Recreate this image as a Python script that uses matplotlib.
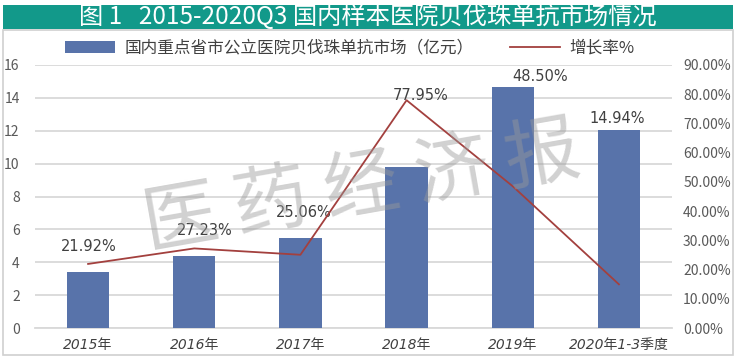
import matplotlib
matplotlib.use("Agg")
import matplotlib.pyplot as plt
from matplotlib.patches import Rectangle
from matplotlib.ticker import FuncFormatter, MultipleLocator

plt.rcParams['font.family'] = ['Noto Sans CJK SC', 'DejaVu Sans']

# ---- data ----
categories = ["2015年", "2016年", "2017年", "2018年", "2019年", "2020年1-3季度"]
market = [3.42, 4.40, 5.48, 9.80, 14.68, 12.03]          # 亿元
growth = [21.92, 27.23, 25.06, 77.95, 48.50, 14.94]      # %
growth_labels = ["21.92%", "27.23%", "25.06%", "77.95%", "48.50%", "14.94%"]
title = "图 1   2015-2020Q3 国内样本医院贝伐珠单抗市场情况"
bar_name = "国内重点省市公立医院贝伐珠单抗市场（亿元）"
line_name = "增长率%"

# label placement offsets (pixels, relative to bar top)
label_dx = [1, 11, 3, 14, 27, -2]
label_dy = [25, 25, 25, 71, 10, 12]

W, H = 736, 359
fig = plt.figure(figsize=(W / 100, H / 100), dpi=100)
fig.patch.set_facecolor("white")

# outer frame
fig.patches.append(Rectangle((3 / W, 1 - 355 / H), 730 / W, 325 / H, transform=fig.transFigure,
                             facecolor="white", edgecolor="#d0d0d0", lw=1.2, zorder=-10))
# title bar
fig.patches.append(Rectangle((3 / W, 1 - 29 / H), 730 / W, 24 / H, transform=fig.transFigure,
                             facecolor="#12998a", edgecolor="none", zorder=-5))
fig.text(368 / W, 1 - 17 / H, title, color="white", fontsize=17.5, ha="center", va="center")

ax = fig.add_axes([35 / W, 1 - 328 / H, 637 / W, 263 / H])
ax2 = ax.twinx()
ax.patch.set_visible(False)
ax2.patch.set_visible(False)

x = list(range(len(categories)))
bar_color = "#5873aa"
line_color = "#a3403e"
bars = ax.bar(x, market, width=0.4, color=bar_color, zorder=3, label=bar_name)
ax.set_xlim(-0.5, len(categories) - 0.5)
ax.set_ylim(0, 16)
ax.yaxis.set_major_locator(MultipleLocator(2))
ax.grid(axis="y", color="#d9d9d9", lw=1.3, zorder=0)
ax.set_axisbelow(True)

ln, = ax2.plot(x, growth, color=line_color, lw=1.3, zorder=4, label=line_name)
ax2.set_ylim(0, 90)
ax2.yaxis.set_major_locator(MultipleLocator(10))
ax2.yaxis.set_major_formatter(FuncFormatter(lambda v, p: f"{v:.2f}%"))

for a in (ax, ax2):
    for s in a.spines.values():
        s.set_visible(False)
    a.tick_params(length=0, labelsize=10, colors="#595959")
ax.spines["bottom"].set_visible(True)
ax.spines["bottom"].set_color("#d9d9d9")
ax.spines["bottom"].set_linewidth(1.3)
ax.tick_params(axis="y", pad=11)
ax2.tick_params(axis="y", pad=8)

ax.set_xticks(x)
ax.set_xticklabels(categories, fontstyle="italic", fontsize=10, color="#404040",
                   family=["DejaVu Sans", "Noto Sans CJK SC"])
ax.tick_params(axis="x", pad=7)

# percentage labels
for i, (v, t) in enumerate(zip(market, growth_labels)):
    ax.annotate(t, xy=(i, v), xytext=(label_dx[i], label_dy[i]), textcoords="offset pixels",
                ha="center", va="center", fontsize=10.5, color="#404040",
                family=["DejaVu Sans"], zorder=6)

# watermark
fig.text(362 / W, 1 - 188 / H, "医 药 经 济 报", fontsize=54, color="#9a9a9a", alpha=0.45,
         rotation=10, ha="center", va="center", fontweight="light", zorder=10)

# legend
fig.legend([bars, ln], [bar_name, line_name], loc="center", bbox_to_anchor=(350 / W, 1 - 48 / H),
           ncol=2, frameon=False, fontsize=12, handlelength=3.0, handletextpad=0.55,
           columnspacing=2.2, labelcolor="#404040")

fig.savefig("out.png", dpi=100)
